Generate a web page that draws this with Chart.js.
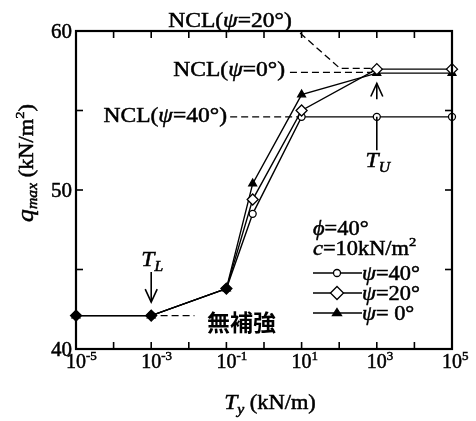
<!DOCTYPE html>
<html>
<head>
<meta charset="utf-8">
<script src="https://cdn.jsdelivr.net/npm/chart.js@4/dist/chart.umd.min.js"></script>
<style>
  html, body { margin: 0; background: #fff; }
  #wrap { width: 476px; height: 421px; }
</style>
</head>
<body>
<div id="wrap"><canvas id="qmaxChart"></canvas></div>
<script>
// T_y values (kN/m) and q_max (kN/m2) for each dilatancy angle
const tyValues = [1e-5, 1e-3, 1e-1, 0.5, 10, 1e3, 1e5];
const qPsi40 = [42.1, 42.1, 43.8, 48.5, 54.6, 54.6, 54.6];
const qPsi20 = [42.1, 42.1, 43.8, 49.4, 55.0, 57.6, 57.6];
const qPsi0 = [42.1, 42.1, 43.8, 50.4, 56.0, 57.35, 57.35];

const xTickExps = [-5, -3, -1, 1, 3, 5];
const xMarkExps = [-5, -4, -3, -2, -1, 0, 1, 2, 3, 4, 5];
const yTickLabels = [40, 50, 60];
const yTickMarks = [40, 45, 50, 55, 60];

const nclPsi0 = 57.4;
const nclPsi20 = 57.65;
const nclPsi40 = 54.6;
const unreinforced = 42.1;

const SERIF = '"Liberation Serif", "Times New Roman", serif';
const font = (size, italic) => (italic ? "italic " : "") + size + "px " + SERIF;

// runs: [text, size, italic, dy]
function drawRuns(ctx, runs, x, y, align, sx) {
  sx = sx || 1;
  let w = 0;
  runs.forEach(r => { ctx.font = font(r[1], r[2]); w += ctx.measureText(r[0]).width; });
  ctx.save();
  ctx.translate(x, y);
  ctx.scale(sx, 1);
  let cx = align === "center" ? -w / 2 : align === "right" ? -w : 0;
  ctx.textAlign = "left";
  ctx.textBaseline = "alphabetic";
  ctx.fillStyle = "#000";
  ctx.strokeStyle = "#000";
  ctx.lineWidth = 0.5;
  ctx.setLineDash([]);
  runs.forEach(r => {
    ctx.font = font(r[1], r[2]);
    ctx.fillText(r[0], cx, r[3] || 0);
    ctx.strokeText(r[0], cx, r[3] || 0);
    cx += ctx.measureText(r[0]).width;
  });
  ctx.restore();
}

function line(ctx, pts, dash) {
  ctx.save();
  ctx.setLineDash(dash || []);
  ctx.beginPath();
  pts.forEach((p, i) => i ? ctx.lineTo(p[0], p[1]) : ctx.moveTo(p[0], p[1]));
  ctx.stroke();
  ctx.restore();
}

function arrowHead(ctx, x, y, dir) {
  // open V head, dir = -1 pointing up, +1 pointing down
  line(ctx, [[x - 6, y - dir * 13], [x, y], [x + 6, y - dir * 13]]);
}

function marker(ctx, style, x, y) {
  ctx.save();
  ctx.lineWidth = 1.3;
  ctx.strokeStyle = "#000";
  ctx.beginPath();
  if (style === "circle") {
    ctx.arc(x, y, 3.5, 0, Math.PI * 2);
    ctx.fillStyle = "#fff";
  } else if (style === "diamond") {
    ctx.moveTo(x - 6.5, y); ctx.lineTo(x, y - 6.5); ctx.lineTo(x + 6.5, y); ctx.lineTo(x, y + 6.5);
    ctx.closePath();
    ctx.fillStyle = "#fff";
  } else {
    ctx.moveTo(x, y - 4.5); ctx.lineTo(x + 4.5, y + 2.5); ctx.lineTo(x - 4.5, y + 2.5);
    ctx.closePath();
    ctx.fillStyle = "#000";
  }
  ctx.fill();
  ctx.stroke();
  ctx.restore();
}

const decorPlugin = {
  id: "decor",
  afterDraw(chart) {
    const ctx = chart.ctx;
    const xs = chart.scales.x, ys = chart.scales.y;
    const { left, right, top, bottom } = chart.chartArea;
    const px = e => xs.getPixelForValue(Math.pow(10, e));
    const py = v => ys.getPixelForValue(v);
    const S = 1.12;

    ctx.save();
    ctx.strokeStyle = "#000";
    ctx.fillStyle = "#000";

    // frame and inward ticks
    ctx.lineWidth = 2.2;
    ctx.strokeRect(left, top, right - left, bottom - top);
    ctx.lineWidth = 1.6;
    xMarkExps.forEach(e => {
      const x = px(e);
      line(ctx, [[x, bottom], [x, bottom - 7]]);
      line(ctx, [[x, top], [x, top + 7]]);
    });
    yTickMarks.forEach(v => {
      const y = py(v);
      line(ctx, [[left, y], [left + 7, y]]);
      line(ctx, [[right, y], [right - 7, y]]);
    });

    // tick labels
    xTickExps.forEach(e => {
      const x = px(e);
      ctx.font = font(20);
      const w = ctx.measureText("10").width;
      drawRuns(ctx, [["10", 20], [String(e), 13, false, -8]], x - w / 2, bottom + 19, "left");
    });
    yTickLabels.forEach(v => {
      drawRuns(ctx, [[String(v), 21]], left - 4, py(v) + 7, "right");
    });

    // axis titles
    drawRuns(ctx, [["T", 21, true], ["y", 14, true, 5], [" (kN/m)", 20]], 270, 409, "center", S);
    ctx.save();
    ctx.translate(33, 163);
    ctx.rotate(-Math.PI / 2);
    drawRuns(ctx, [["q", 23, true], ["max", 14, true, 4], [" (kN/m", 20], ["2", 13, false, -9], [")", 20]], 0, 0, "center", S);
    ctx.restore();

    // NCL annotations
    ctx.lineWidth = 1.3;
    const dash = [7, 4];
    drawRuns(ctx, [["NCL(", 21], ["\u03c8", 21, true], ["=20\u00b0)", 21]], 230, 27, "center", S);
    line(ctx, [[px(0.96), py(59.87)], [px(2.02), py(nclPsi20)], [px(2.87), py(nclPsi20)]], dash);

    drawRuns(ctx, [["NCL(", 21], ["\u03c8", 21, true], ["=0\u00b0)", 21]], 285, 76, "right", S);
    line(ctx, [[px(0.69), py(nclPsi0)], [px(2.87), py(nclPsi0)]], dash);

    drawRuns(ctx, [["NCL(", 21], ["\u03c8", 21, true], ["=40\u00b0)", 21]], 227, 122, "right", S);
    line(ctx, [[px(-0.9), py(nclPsi40)], [px(0.9), py(nclPsi40)]], dash);

    // T_U
    ctx.lineWidth = 1.6;
    const xu = px(3);
    line(ctx, [[xu, py(55.7)], [xu, py(56.7)]]);
    arrowHead(ctx, xu, py(56.7), -1);
    line(ctx, [[xu, py(nclPsi40)], [xu, py(52.5)]]);
    drawRuns(ctx, [["T", 21, true], ["U", 14, true, 5]], xu + 1, 167, "center", S);

    // T_L
    const xl = px(-3);
    drawRuns(ctx, [["T", 21, true], ["L", 14, true, 5]], xl + 1, 266, "center", S);
    line(ctx, [[xl, 272], [xl, py(42.95)]]);
    arrowHead(ctx, xl, py(42.95), 1);

    // unreinforced
    ctx.lineWidth = 1.3;
    line(ctx, [[px(-2.75), py(unreinforced)], [px(-1.85), py(unreinforced)]], dash);
    ctx.font = 'bold 23px "Noto Sans CJK JP", sans-serif';
    ctx.textAlign = "left";
    ctx.textBaseline = "middle";
    ctx.fillText("無補強", 207, 322);

    // legend
    drawRuns(ctx, [["\u03d5", 20, true], ["=40\u00b0", 20]], 313, 235, "left", S);
    drawRuns(ctx, [["c", 20, true], ["=10kN/m", 20], ["2", 13, false, -9]], 313, 255, "left", S);
    const rows = [["circle", "=40\u00b0", 273], ["diamond", "=20\u00b0", 293], ["triangle", "= 0\u00b0", 313]];
    rows.forEach(r => {
      ctx.lineWidth = 1.3;
      line(ctx, [[313, r[2]], [362, r[2]]]);
      marker(ctx, r[0], 337, r[2]);
      drawRuns(ctx, [["\u03c8", 20, true], [r[1], 20]], 362, r[2] + 7, "left", S);
    });

    ctx.restore();
  }
};

const toPoints = ys => tyValues.map((t, i) => ({ x: t, y: ys[i] }));
const baseSet = { borderColor: "#000", borderWidth: 1.4, pointBorderColor: "#000", pointBorderWidth: 1.3, clip: false, tension: 0, fill: false };

const ctx1 = document.getElementById("qmaxChart").getContext("2d");
new Chart(ctx1, {
  type: "line",
  data: {
    datasets: [
      Object.assign({}, baseSet, {
        label: "\u03c8=20\u00b0",
        data: toPoints(qPsi20),
        pointStyle: "rectRot",
        pointRadius: 5.5,
        pointBackgroundColor: tyValues.map((t, i) => (i < 3 ? "#000" : "#fff")),
      }),
      Object.assign({}, baseSet, {
        label: "\u03c8=0\u00b0",
        data: toPoints(qPsi0),
        pointStyle: "triangle",
        pointRadius: 4.5,
        pointBackgroundColor: "#000",
      }),
      Object.assign({}, baseSet, {
        label: "\u03c8=40\u00b0",
        data: toPoints(qPsi40),
        pointStyle: "circle",
        pointRadius: 3.5,
        pointBackgroundColor: "#fff",
      }),
    ],
  },
  options: {
    responsive: true,
    maintainAspectRatio: false,
    animation: false,
    layout: { padding: { left: 76, right: 24, top: 31, bottom: 72 } },
    plugins: {
      legend: { display: false },
      tooltip: { enabled: false },
    },
    scales: {
      x: { type: "logarithmic", min: 1e-5, max: 1e5, display: false },
      y: { type: "linear", min: 40, max: 60, display: false },
    },
  },
  plugins: [decorPlugin],
});
</script>
</body>
</html>
